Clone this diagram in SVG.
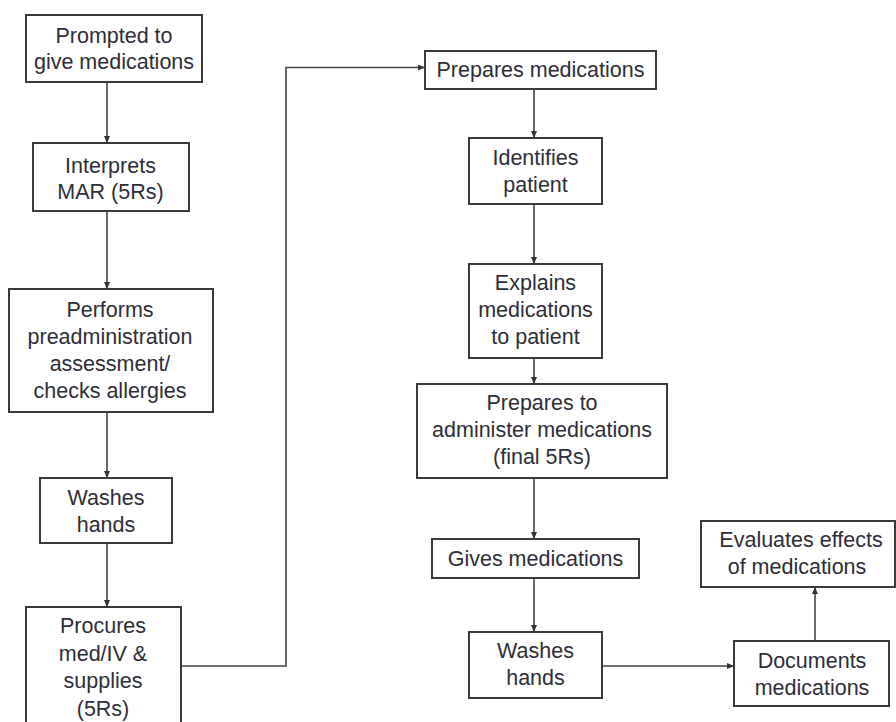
<svg xmlns="http://www.w3.org/2000/svg" width="896" height="722" viewBox="0 0 896 722">
<defs>
<marker id="arr" markerUnits="userSpaceOnUse" markerWidth="7" markerHeight="6" refX="7" refY="3" orient="auto">
<path d="M0,0 L7,3 L0,6 z" fill="#333"/>
</marker>
<style>
.box{fill:#fff;stroke:#3a3a3a;stroke-width:2}
.t{font-family:"Liberation Sans",Arial,sans-serif;font-size:21.5px;fill:#2e2e38;text-anchor:middle}
.c{fill:none;stroke:#444;stroke-width:1.6}
</style>
</defs>
<rect width="896" height="722" fill="#fff"/>
<g id="connectors">
<path class="c" d="M107,82 V143" marker-end="url(#arr)"/>
<path class="c" d="M107,211 V289" marker-end="url(#arr)"/>
<path class="c" d="M107,412 V478" marker-end="url(#arr)"/>
<path class="c" d="M107,543 V607" marker-end="url(#arr)"/>
<path class="c" d="M181,666 H286 V67.5 H425" marker-end="url(#arr)"/>
<path class="c" d="M534,89 V138" marker-end="url(#arr)"/>
<path class="c" d="M534,204 V264" marker-end="url(#arr)"/>
<path class="c" d="M534,358 V384" marker-end="url(#arr)"/>
<path class="c" d="M534,478 V539" marker-end="url(#arr)"/>
<path class="c" d="M534,578 V632" marker-end="url(#arr)"/>
<path class="c" d="M602,666 H734" marker-end="url(#arr)"/>
<path class="c" d="M815,641 V587" marker-end="url(#arr)"/>
</g>
<g id="n1"><rect class="box" x="26" y="15" width="176" height="67"/>
<text class="t" x="114" y="43">Prompted to</text><text class="t" x="114" y="69">give medications</text></g>
<g id="n2"><rect class="box" x="33" y="143" width="156" height="68"/>
<text class="t" x="110.5" y="173">Interprets</text><text class="t" x="110.5" y="198.5">MAR (5Rs)</text></g>
<g id="n3"><rect class="box" x="9" y="289" width="204" height="123"/>
<text class="t" x="110" y="317">Performs</text><text class="t" x="110" y="344">preadministration</text><text class="t" x="110" y="371">assessment/</text><text class="t" x="110" y="398">checks allergies</text></g>
<g id="n4"><rect class="box" x="40" y="478" width="132" height="65"/>
<text class="t" x="106" y="505">Washes</text><text class="t" x="106" y="532">hands</text></g>
<g id="n5"><rect class="box" x="26" y="607" width="155" height="125"/>
<text class="t" x="103" y="633">Procures</text><text class="t" x="103" y="660.5">med/IV &amp;</text><text class="t" x="103" y="688">supplies</text><text class="t" x="103" y="715.5">(5Rs)</text></g>
<g id="n6"><rect class="box" x="425" y="51" width="231" height="38"/>
<text class="t" x="540.5" y="77">Prepares medications</text></g>
<g id="n7"><rect class="box" x="469" y="138" width="133" height="66"/>
<text class="t" x="535.5" y="165">Identifies</text><text class="t" x="535.5" y="192">patient</text></g>
<g id="n8"><rect class="box" x="469" y="264" width="133" height="94"/>
<text class="t" x="535.5" y="290">Explains</text><text class="t" x="535.5" y="317">medications</text><text class="t" x="535.5" y="344">to patient</text></g>
<g id="n9"><rect class="box" x="417" y="384" width="250" height="94"/>
<text class="t" x="542" y="410">Prepares to</text><text class="t" x="542" y="437">administer medications</text><text class="t" x="542" y="464">(final 5Rs)</text></g>
<g id="n10"><rect class="box" x="432" y="539" width="207" height="39"/>
<text class="t" x="535.5" y="566">Gives medications</text></g>
<g id="n11"><rect class="box" x="469" y="632" width="133" height="66"/>
<text class="t" x="535.5" y="658">Washes</text><text class="t" x="535.5" y="685">hands</text></g>
<g id="n12"><rect class="box" x="701" y="521" width="194" height="66"/>
<text class="t" x="801" y="547">Evaluates effects</text><text class="t" x="797" y="574">of medications</text></g>
<g id="n13"><rect class="box" x="734" y="641" width="155" height="65"/>
<text class="t" x="812" y="668">Documents</text><text class="t" x="812" y="695">medications</text></g>
</svg>
